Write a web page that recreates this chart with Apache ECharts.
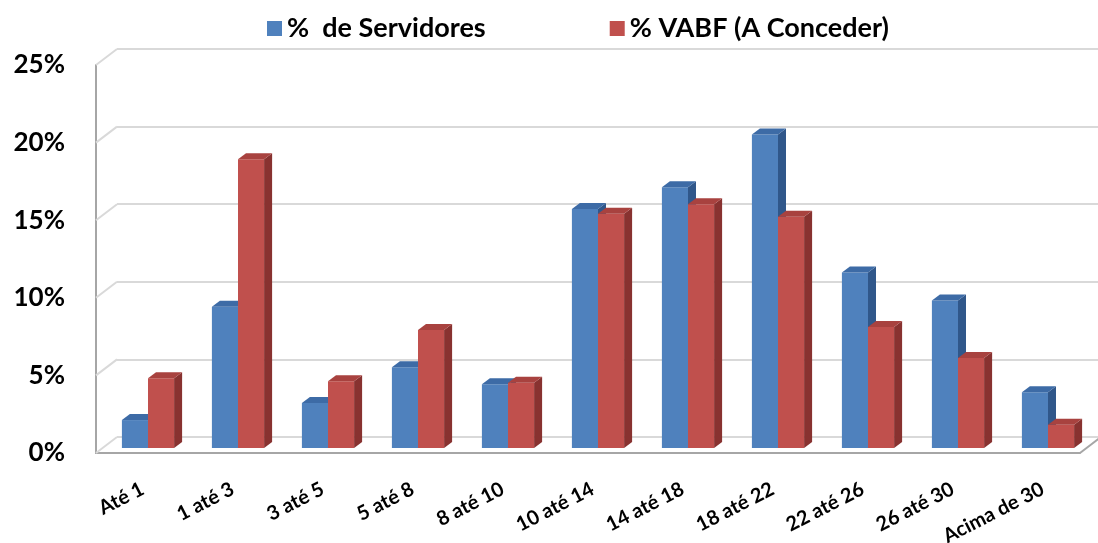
<!DOCTYPE html>
<html>
<head>
<meta charset="utf-8">
<script src="https://cdn.jsdelivr.net/npm/echarts@6/dist/echarts.min.js"></script>
<style>
  html, body { margin: 0; padding: 0; background: #fff; }
  #chart { width: 1098px; height: 543px; }
</style>
</head>
<body>
<div id="chart"></div>
<script>
// categories and values (percent)
const categories = ['Até 1', '1 até 3', '3 até 5', '5 até 8', '8 até 10', '10 até 14',
    '14 até 18', '18 até 22', '22 até 26', '26 até 30', 'Acima de 30'];
const servidores = [1.8, 9.1, 2.9, 5.2, 4.1, 15.4, 16.8, 20.2, 11.3, 9.5, 3.6];
const vabf = [4.5, 18.6, 4.3, 7.6, 4.2, 15.1, 15.7, 14.9, 7.8, 5.8, 1.5];
const yTicks = [0, 5, 10, 15, 20, 25];
const seriesNames = ['%  de Servidores', '% VABF (A Conceder)'];

// 3D look
const WALL_DX = 21, WALL_DY = 16;   // depth of the box
const BAR_DX = 8, BAR_DY = 6;       // depth of a bar
const colors = {
    blue: { front: '#4F81BD', top: '#3D6BA6', side: '#30578A' },
    red: { front: '#C0504D', top: '#A8423F', side: '#883230' }
};

const chart = echarts.init(document.getElementById('chart'));

function barRenderer(slot, c) {
    return function (params, api) {
        const i = api.value(0);
        const top = api.coord([i, api.value(1)]);
        const base = api.coord([i, 0]);
        const w = api.size([1, 0])[0] * 0.29;
        const x0 = top[0] + slot * w;
        const x1 = x0 + w;
        const yT = top[1], yB = base[1];
        return {
            type: 'group',
            children: [
                { type: 'rect', shape: { x: x0, y: yT, width: w, height: yB - yT },
                  style: { fill: c.front } },
                { type: 'polygon', shape: { points: [[x1, yT], [x1 + BAR_DX, yT - BAR_DY],
                    [x1 + BAR_DX, yB - BAR_DY], [x1, yB]] }, style: { fill: c.side } },
                { type: 'polygon', shape: { points: [[x0, yT], [x0 + BAR_DX, yT - BAR_DY],
                    [x1 + BAR_DX, yT - BAR_DY], [x1, yT]] }, style: { fill: c.top } }
            ]
        };
    };
}

const option = {
    animation: false,
    backgroundColor: '#fff',
    textStyle: { fontFamily: 'Lato' },
    legend: {
        top: 10,
        left: 262,
        itemGap: 124,
        itemWidth: 15,
        itemHeight: 15,
        icon: 'rect',
        data: seriesNames,
        textStyle: { fontSize: 27, fontWeight: 'bold', color: '#000', fontFamily: 'Lato' }
    },
    grid: [
        { left: 117, right: 0, top: 49, height: 388, outerBoundsMode: 'none' },    // back wall
        { left: 103, width: 990, top: 60, height: 388, outerBoundsMode: 'none' },  // bars
        { left: 96, width: 984, top: 65, height: 388, outerBoundsMode: 'none' }    // front edge
    ],
    xAxis: [
        { gridIndex: 0, type: 'category', data: categories, axisLine: { show: false },
          axisTick: { show: false }, axisLabel: { show: false } },
        { gridIndex: 1, type: 'category', data: categories, axisLine: { show: false },
          axisTick: { show: false },
          axisLabel: { interval: 0, rotate: 27, margin: 37, fontSize: 20, fontWeight: 'bold',
                       padding: [0, 6, 0, 0], color: '#000', fontFamily: 'Lato' } },
        { gridIndex: 2, type: 'category', data: categories,
          axisLine: { lineStyle: { color: '#A6A6A6', width: 2 } },
          axisTick: { show: false }, axisLabel: { show: false } }
    ],
    yAxis: [
        { gridIndex: 0, type: 'value', min: 0, max: 25, interval: 5,
          axisLine: { show: false }, axisTick: { show: false }, axisLabel: { show: false },
          splitLine: { lineStyle: { color: '#D9D9D9', width: 2 } } },
        { gridIndex: 1, type: 'value', min: 0, max: 25, show: false },
        { gridIndex: 2, type: 'value', min: 0, max: 25, interval: 5,
          axisLine: { show: true, lineStyle: { color: '#A6A6A6', width: 2 } },
          axisTick: { show: false }, splitLine: { show: false },
          axisLabel: { formatter: '{value}%', margin: 31, fontSize: 26, fontWeight: 'bold',
                       color: '#000', fontFamily: 'Lato' } }
    ],
    series: [
        {
            // left wall: grid lines running from the back wall to the front edge
            type: 'custom',
            silent: true,
            xAxisIndex: 0,
            yAxisIndex: 0,
            data: yTicks.map(v => [0, v]),
            renderItem: function (params, api) {
                const y = api.coord([0, api.value(1)])[1];
                const x = params.coordSys.x;
                return { type: 'line', shape: { x1: x, y1: y, x2: x - WALL_DX, y2: y + WALL_DY },
                         style: { stroke: '#D9D9D9', lineWidth: 2 } };
            }
        },
        {
            // floor: right edge
            type: 'custom',
            silent: true,
            xAxisIndex: 2,
            yAxisIndex: 2,
            data: [[0, 0]],
            renderItem: function (params, api) {
                const cs = params.coordSys;
                const x = cs.x + cs.width, y = cs.y + cs.height;
                return { type: 'line', shape: { x1: x, y1: y, x2: x + WALL_DX, y2: y - WALL_DY },
                         style: { stroke: '#A6A6A6', lineWidth: 2 } };
            }
        },
        {
            name: seriesNames[0],
            type: 'custom',
            xAxisIndex: 1,
            yAxisIndex: 1,
            itemStyle: { color: colors.blue.front },
            encode: { x: 0, y: 1 },
            data: servidores.map((v, i) => [i, v]),
            renderItem: barRenderer(-1, colors.blue)
        },
        {
            name: seriesNames[1],
            type: 'custom',
            xAxisIndex: 1,
            yAxisIndex: 1,
            itemStyle: { color: colors.red.front },
            encode: { x: 0, y: 1 },
            data: vabf.map((v, i) => [i, v]),
            renderItem: barRenderer(0, colors.red)
        }
    ]
};

chart.setOption(option);
window.addEventListener('resize', () => chart.resize());
</script>
</body>
</html>
